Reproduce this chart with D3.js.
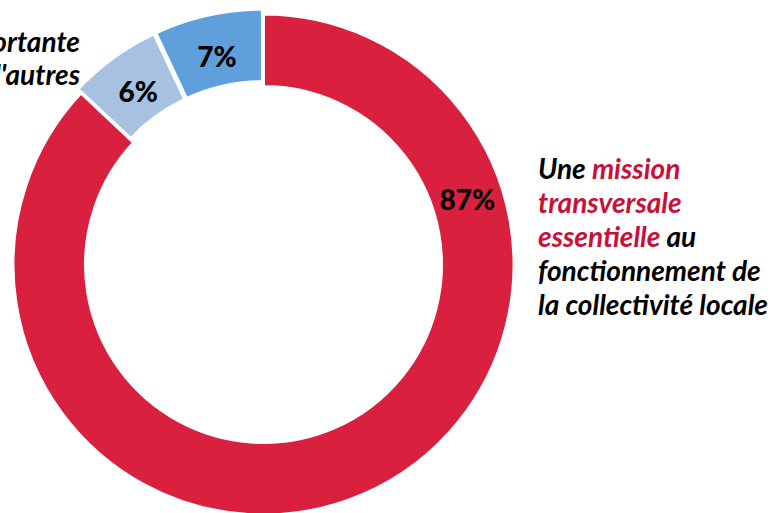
<!DOCTYPE html>
<html><head><meta charset="utf-8">
<script src="https://cdn.jsdelivr.net/npm/d3@7"></script>
<style>body{margin:0;background:#fff;overflow:hidden}svg{display:block}</style>
</head><body>
<svg id="c" width="780" height="513"></svg>
<script>
const categories = ["Une mission transversale essentielle au fonctionnement de la collectivité locale", "Une mission importante parmi d'autres", "Autre"];
const values = [87, 6, 7];
const colors = ["#D9203F", "#A7C1E1", "#5F9FDB"];
const exploded = [0, 5, 5];
const pctLabels = ["87%", "6%", "7%"];

const svg = d3.select("#c");
const cx = 263.5, cy = 264.5, R = 250.5, r = 178;
const g = svg.append("g").attr("transform", `translate(${cx},${cy})`);
const pie = d3.pie().sort(null).value(d => d)(values);
const arc = d3.arc().innerRadius(r).outerRadius(R);
const labelArc = d3.arc().innerRadius(203).outerRadius(213);

pie.forEach((p, i) => {
  const mid = (p.startAngle + p.endAngle) / 2;
  const dx = Math.sin(mid) * exploded[i], dy = -Math.cos(mid) * exploded[i];
  const sg = g.append("g").attr("transform", `translate(${dx},${dy})`);
  sg.append("path").attr("d", arc(p)).attr("fill", colors[i])
    .attr("stroke", "#fff").attr("stroke-width", 3).attr("stroke-linejoin", "miter");
  let pos;
  if (i === 0) {
    const a = 72.3 * Math.PI / 180, rr = 214;
    pos = [Math.sin(a) * rr, -Math.cos(a) * rr];
  } else {
    pos = labelArc.centroid(p);
  }
  sg.append("text").attr("x", pos[0]).attr("y", pos[1]).attr("dy", "0.36em")
    .attr("text-anchor", "middle")
    .style("font-family", "Lato, 'Open Sans', sans-serif").style("font-weight", 900)
    .style("font-size", "28px").attr("fill", "#000").text(pctLabels[i]);
});

const tf = "Lato, 'Open Sans', sans-serif";
// left label (cut off by the frame, as in the reference)
const left = svg.append("text").attr("text-anchor", "end")
  .style("font-family", tf).style("font-weight", 700).style("font-style", "italic")
  .style("font-size", "28px").attr("fill", "#000");
[["importante", 52], ["d'autres", 85]].forEach(([t, y]) => {
  left.append("tspan").attr("x", 80).attr("y", y).text(t);
});

// right label
const red = "#C8103A";
const rightLines = [
  [["Une ", "#000"], ["mission", red]],
  [["transversale", red]],
  [["essentielle", red], [" au", "#000"]],
  [["fonctionnement de", "#000"]],
  [["la collectivité locale", "#000"]]
];
const right = svg.append("text")
  .style("font-family", tf).style("font-weight", 700).style("font-style", "italic")
  .style("font-size", "28px");
rightLines.forEach((line, li) => {
  line.forEach((seg, si) => {
    const ts = right.append("tspan").attr("fill", seg[1]).text(seg[0]);
    if (si === 0) ts.attr("x", 538).attr("y", 179 + li * 34);
  });
});
</script>
</body></html>
